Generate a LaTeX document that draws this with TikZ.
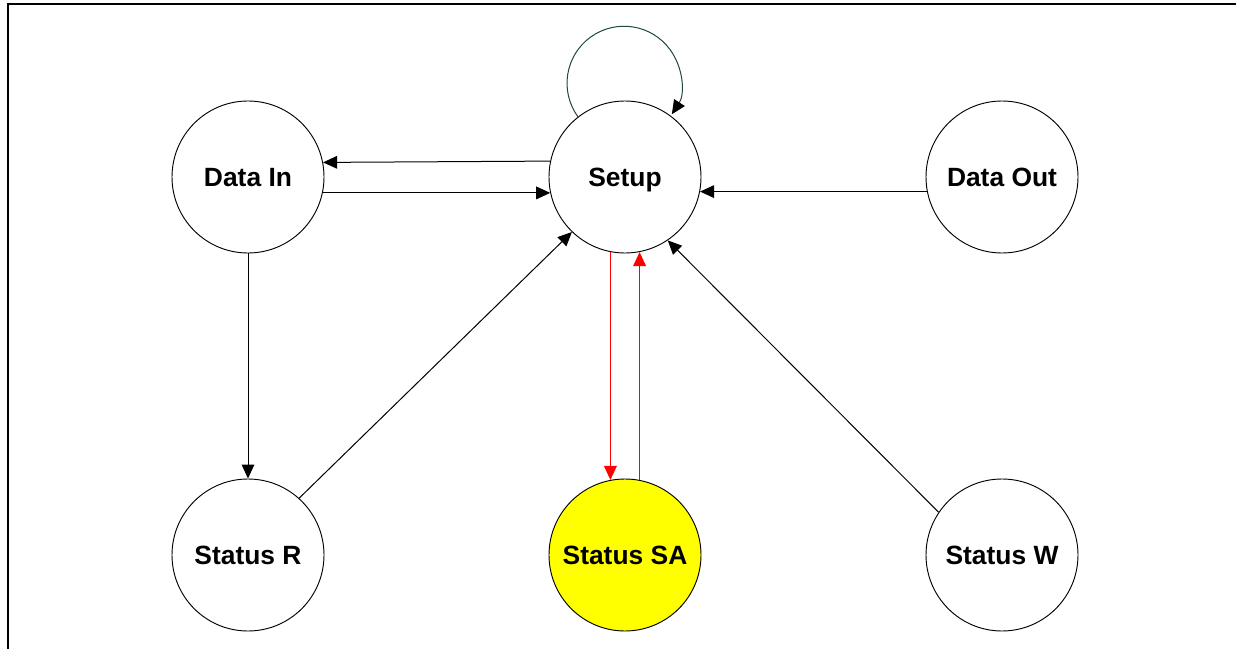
\documentclass[tikz,border=0pt]{standalone}
\usepackage{fontspec}
\setmainfont{Liberation Sans}
\usetikzlibrary{arrows.meta}
\definecolor{loopgreen}{RGB}{30,75,50}
\definecolor{saYellow}{RGB}{255,255,0}
\tikzset{
  state/.style={circle, draw=black, line width=0.7pt, fill=white, minimum size=114pt, inner sep=0pt,
    text depth=0pt, font=\fontsize{19.8pt}{22pt}\selectfont\bfseries},
  conn/.style={line width=0.75pt, draw=black, -{Triangle[length=10.5pt, width=9.5pt]}},
  redconn/.style={line width=1pt, draw=red, -{Triangle[length=10.5pt, width=9.5pt]}},
  loopconn/.style={line width=0.75pt, draw=loopgreen, -{Triangle[length=10.5pt, width=9.5pt, fill=black, color=black]}},
  frameline/.style={line width=1.6pt, draw=black}
}
\begin{document}
\begin{tikzpicture}[x=0.75pt, y=-0.75pt]
\useasboundingbox (0,0) rectangle (1236,649);
\draw[frameline] (8,649) -- (8,4) -- (1236,4);

\node[state] (datain) at (248,177) {Data In};
\node[state] (setup) at (625,177) {Setup};
\node[state] (dataout) at (1002,177) {Data Out};
\node[state] (statr) at (248,555) {Status R};
\node[state, fill=saYellow] (statsa) at (625,555) {Status SA};
\node[state] (statw) at (1002,555) {Status W};

% self loop on Setup
\draw[loopconn] (setup.128) arc[start angle=144, end angle=393, radius=57];

% Setup <-> Data In
\draw[conn] (setup.168.6) -- (datain.11.4);
\draw[conn] (datain.-12) -- (setup.192);
% Data Out -> Setup
\draw[conn] (dataout.191.4) -- (setup.-11.4);
% Data In -> Status R
\draw[conn] (datain.south) -- (statr.north);
% Status R -> Setup
\draw[conn] (statr.48.9) -- (setup.226);
% Status W -> Setup
\draw[conn] (statw.146.7) -- (setup.-56.7);
% Setup <-> Status SA
\draw[redconn] (setup.-101.4) -- (statsa.101.4);
\draw[redconn] (statsa.79.4) -- (setup.-79.4);
\end{tikzpicture}
\end{document}
